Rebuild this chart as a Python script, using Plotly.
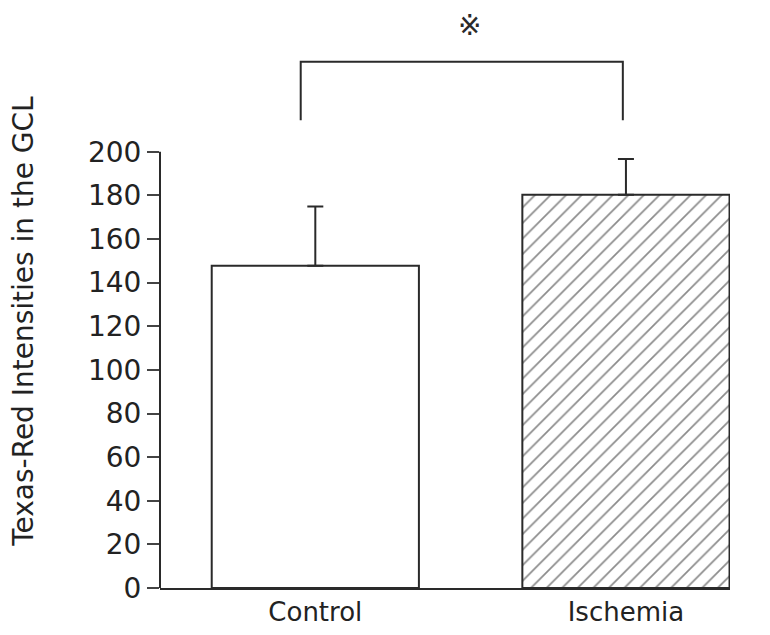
import plotly.graph_objects as go

categories = ["Control", "Ischemia"]
means = [147.7, 180.3]
errors = [27.2, 16.4]
y_ticks = [0, 20, 40, 60, 80, 100, 120, 140, 160, 180, 200]
y_title = "Texas-Red Intensities in the GCL"
sig_mark = "※"

FONT = "DejaVu Sans"
INK = "#2a2a2a"
TXT = "#222222"

fig = go.Figure()

fig.add_trace(go.Bar(
    x=[categories[0]], y=[means[0]],
    width=0.667,
    marker=dict(color="white", line=dict(color=INK, width=2)),
    error_y=dict(type="data", array=[errors[0]], arrayminus=[0], symmetric=False,
                 color=INK, thickness=2, width=8),
    showlegend=False,
))
fig.add_trace(go.Bar(
    x=[categories[1]], y=[means[1]],
    width=0.667,
    marker=dict(color="white", line=dict(color=INK, width=2),
                pattern=dict(shape="/", size=11, solidity=0.16,
                             fgcolor="#1a1a1a", bgcolor="white")),
    error_y=dict(type="data", array=[errors[1]], arrayminus=[0], symmetric=False,
                 color=INK, thickness=2, width=8),
    showlegend=False,
))

# y-axis line from 0 to 200 only
fig.add_shape(type="line", xref="paper", yref="y", x0=0, x1=0, y0=0, y1=200,
              line=dict(color=INK, width=2))

# significance bracket
fig.add_shape(type="path", xref="x", yref="y",
              path="M -0.047,214.5 L -0.047,241.3 L 0.99,241.3 L 0.99,214.5",
              line=dict(color=INK, width=2))
fig.add_annotation(x=0.497, y=258.0, xref="x", yref="y", text=sig_mark,
                   showarrow=False, borderpad=0,
                   font=dict(family=FONT, size=28, color=INK))

fig.add_annotation(x=-0.2386, xref="paper", y=122.5, yref="y", text=y_title,
                   textangle=-90, showarrow=False, xanchor="center", yanchor="middle",
                   font=dict(family=FONT, size=28, color=TXT))

fig.update_layout(
    width=762, height=627,
    margin=dict(l=152, r=40, t=2, b=47),
    plot_bgcolor="white", paper_bgcolor="white",
    font=dict(family=FONT, size=28, color=TXT),
    bargap=0.333,
    xaxis=dict(range=[-0.5, 1.335], showline=True, linecolor=INK, linewidth=2,
               ticks="", showgrid=False, zeroline=False,
               tickfont=dict(family=FONT, size=26, color=TXT)),
    yaxis=dict(range=[0, 265], tickvals=y_ticks, ticks="outside", ticklen=12,
               tickwidth=1.5, tickcolor="#444444", showline=False, showgrid=False,
               zeroline=False, tickfont=dict(family=FONT, size=28, color=TXT)),
)

fig.write_html("out.html")
